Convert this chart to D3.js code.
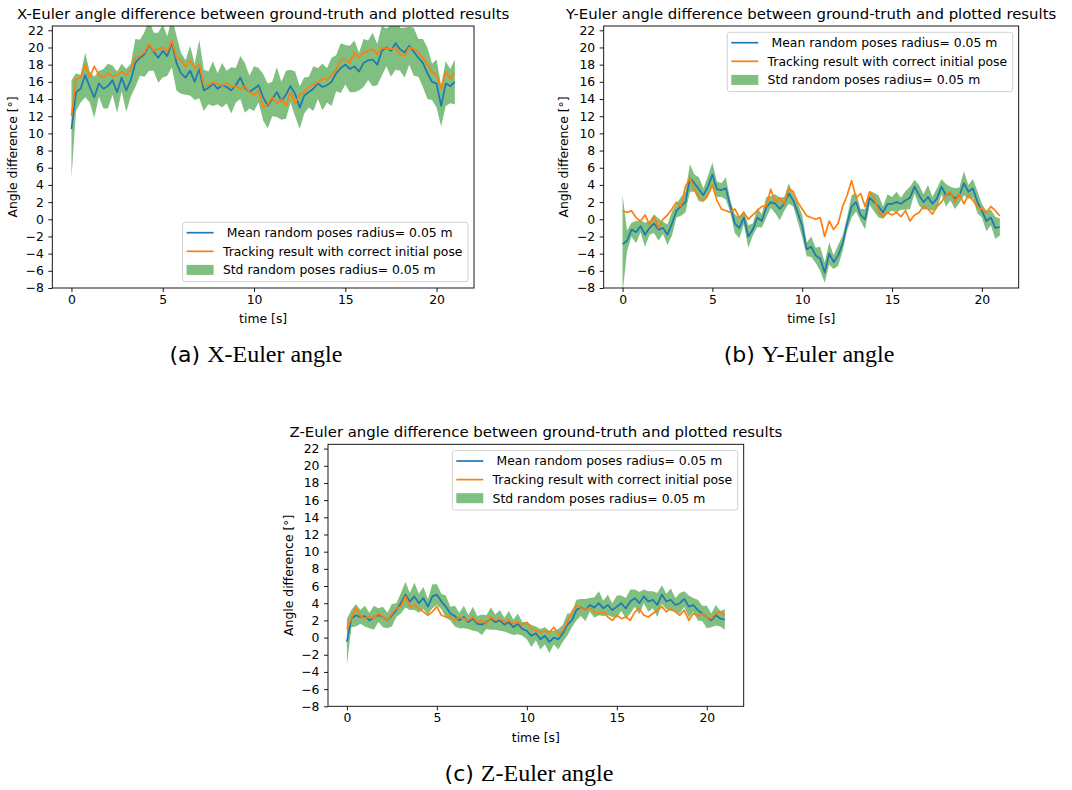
<!DOCTYPE html>
<html>
<head>
<meta charset="utf-8">
<script src="https://cdn.jsdelivr.net/npm/d3@7"></script>
<style>
  html, body { margin: 0; padding: 0; background: #fff; }
  svg { display: block; }
  text { font-family: "DejaVu Sans", sans-serif; fill: #000; }
</style>
</head>
<body>
<svg id="fig" width="1072" height="790"></svg>
<script>
// Sample times of the recordings (seconds).
const time = d3.range(0, 21.001, 0.25);

// X-Euler angle difference [deg]
const xMean = [
  10.5, 14.8, 15.2, 16.8,
  15.4, 14.2, 15.8, 15.2,
  15.5, 16.2, 14.8, 16.5,
  15.0, 16.2, 18.2, 18.8,
  19.2, 20.3, 19.5, 18.8,
  19.6, 19.0, 20.6, 18.2,
  17.0, 16.5, 17.3, 16.0,
  17.5, 15.0, 15.3, 15.8,
  15.2, 15.6, 15.4, 15.0,
  15.6, 16.5, 15.3, 14.8,
  15.2, 15.6, 14.2, 13.2,
  14.0, 14.8, 13.8, 14.5,
  15.5, 14.6, 13.0, 14.4,
  14.8, 15.2, 15.8, 15.4,
  15.6, 16.0, 17.0, 17.6,
  18.0, 17.5, 17.8, 17.2,
  18.2, 18.5, 18.6, 18.0,
  19.6, 20.0, 19.6, 20.5,
  19.8, 19.4, 20.2, 19.5,
  18.8, 18.2, 17.0, 16.0,
  15.8, 13.2, 15.8, 15.5,
  16.0
];
const xTrack = [
  12.0, 16.3, 16.5, 18.0,
  16.5, 17.8, 16.8, 16.5,
  17.0, 16.6, 16.8, 17.2,
  16.8, 17.4, 18.8, 19.0,
  19.4, 20.4, 19.6, 19.8,
  20.0, 19.5, 20.8, 18.8,
  18.5, 17.8, 18.5, 17.6,
  18.0, 15.6, 15.6, 15.9,
  15.8, 15.5, 15.9, 15.4,
  15.5, 15.2, 15.5, 14.8,
  14.5, 15.0, 13.0, 13.4,
  14.2, 13.5, 14.0, 13.2,
  14.8, 13.5, 14.5, 14.8,
  15.4, 15.7, 15.9, 16.4,
  16.2, 16.8, 17.4, 18.6,
  18.6, 18.2, 19.4, 18.8,
  19.4, 19.6, 19.8, 19.2,
  20.0, 19.9, 19.8, 20.0,
  19.2, 19.0, 20.0, 19.8,
  19.4, 18.8, 18.0, 17.2,
  16.8, 15.2, 17.2, 16.4,
  17.0
];
const xStd = [
  5.7, 2.2, 1.6, 2.6,
  1.8, 2.4, 1.5, 2.3,
  2.6, 1.7, 2.4, 1.6,
  2.5, 1.9, 2.8, 2.1,
  2.6, 3.0, 2.2, 2.9,
  3.1, 2.3, 2.9, 3.2,
  2.4, 2.0, 2.9, 2.1,
  3.4, 2.4, 1.9, 2.6,
  1.8, 2.6, 1.9, 2.7,
  2.0, 2.5, 2.9, 1.9,
  2.6, 2.0, 2.7, 2.6,
  2.0, 2.9, 2.2, 2.8,
  1.9, 2.6, 2.5, 2.1,
  1.8, 2.6, 1.8, 2.7,
  2.0, 2.8, 2.1, 2.9,
  2.3, 2.7, 3.0, 2.2,
  2.8, 2.3, 3.1, 2.4,
  2.9, 2.2, 3.0, 3.1,
  2.5, 2.9, 2.2, 2.8,
  2.2, 2.8, 3.0, 2.1,
  2.8, 2.4, 2.6, 2.0,
  2.6
];

// Y-Euler angle difference [deg]
const yMean = [
  -2.9, -2.5, -1.2, -1.5,
  -0.8, -1.8, -1.0, -0.5,
  -1.2, -1.0, -1.8, -0.5,
  1.0, 1.5, 2.0, 4.8,
  4.2, 3.5, 2.8, 3.8,
  5.2, 3.5, 3.4, 3.6,
  1.5, -0.5, -1.0, 0.2,
  -2.0, -1.2, 0.2, -0.2,
  1.4, 2.0, 1.8, 1.2,
  1.8, 3.0, 2.2, 0.8,
  -0.8, -3.5, -3.2, -4.2,
  -4.6, -6.2, -4.0, -5.0,
  -4.2, -2.8, -0.5, 1.5,
  2.0, 0.5, 0.0, 2.5,
  2.0, 1.5, 0.8, 1.8,
  1.8, 2.0, 1.8, 2.2,
  2.5, 3.8, 2.8, 2.0,
  2.6, 1.8, 2.4, 3.8,
  2.8, 3.0, 2.4, 2.8,
  4.2, 3.2, 3.6, 2.0,
  1.0, -0.2, 0.2, -1.0,
  -0.9
];
const yTrack = [
  1.0, 0.8, 1.0, 0.2,
  -0.2, 0.5, -0.6, 0.3,
  -1.0, 0.0, 0.5, 1.2,
  2.0, 1.5, 3.8, 4.8,
  3.5, 2.5, 2.2, 2.8,
  4.0, 2.2, 1.2, 1.0,
  0.8, 1.2, 0.2, 0.8,
  0.0, 0.5, 1.0, 1.5,
  1.5, 3.5, 2.0, 2.5,
  1.8, 3.6, 3.2, 2.0,
  1.2, 0.4, 0.2, 0.0,
  0.2, -2.0, -0.2, -1.2,
  -0.5, 1.5, 2.8, 4.5,
  2.5, 3.0, 1.5, 3.2,
  2.5, 1.0, 0.2, 0.8,
  0.5, 0.8, 0.3, 1.0,
  -0.2, 0.5, 0.8, 1.5,
  1.2, 0.6, 1.5, 2.0,
  2.8, 3.2, 2.0, 3.0,
  1.8, 2.8, 2.2, 1.4,
  1.2, 0.8, 1.5, 1.0,
  0.4
];
const yStd = [
  5.7, 1.2, 0.8, 1.3,
  0.7, 1.4, 0.8, 1.1,
  1.3, 0.7, 1.2, 1.4,
  0.8, 1.1, 1.2, 1.6,
  1.0, 1.4, 0.8, 1.2,
  1.4, 0.9, 0.8, 1.3,
  0.7, 1.1, 1.2, 0.8,
  1.3, 0.7, 1.1, 0.8,
  1.2, 0.7, 1.1, 1.3,
  0.8, 1.2, 0.7, 1.1,
  1.3, 0.8, 1.2, 0.9,
  1.4, 1.2, 1.3, 0.8,
  1.2, 0.9, 0.8, 1.3,
  1.1, 0.7, 1.2, 0.8,
  1.1, 1.3, 0.7, 1.1,
  0.8, 1.2, 0.7, 1.1,
  1.3, 0.8, 1.2, 0.9,
  1.4, 0.8, 1.2, 0.9,
  1.3, 0.8, 1.2, 0.9,
  1.4, 0.8, 1.1, 1.3,
  0.8, 1.2, 0.9, 1.3,
  1.0
];

// Z-Euler angle difference [deg]
const zMean = [
  -0.5, 2.2, 2.6, 2.4,
  2.5, 2.0, 2.3, 2.6,
  2.4, 2.0, 2.6, 3.2,
  4.0, 5.0, 4.2, 4.8,
  4.0, 4.6, 3.6, 4.8,
  5.0, 4.2, 3.6, 2.8,
  2.5, 2.0, 2.4, 1.8,
  2.2, 1.6, 1.5, 1.8,
  2.2, 1.8, 2.0, 1.5,
  1.8, 1.2, 1.6, 1.0,
  0.8, 0.2, 0.5, -0.2,
  0.2, -0.5, 0.0, -0.2,
  0.5, 1.5, 2.0, 3.2,
  3.5, 3.2, 3.8, 3.5,
  4.0, 3.4, 3.8, 3.2,
  3.6, 4.0, 3.4, 4.2,
  4.6, 4.0, 4.8, 4.2,
  4.4, 3.8, 5.0, 4.2,
  4.4, 3.8, 4.0, 4.5,
  3.6, 3.8, 3.2, 2.8,
  2.4, 2.0, 2.6, 2.2,
  2.1
];
const zTrack = [
  1.0, 2.2, 3.5, 2.5,
  2.2, 2.5, 2.2, 2.8,
  2.4, 2.0, 2.8, 3.4,
  3.6, 4.8, 3.6, 3.8,
  3.4, 3.0, 2.6, 3.0,
  3.6, 2.6, 2.4, 2.5,
  2.0, 2.4, 2.2, 2.0,
  2.4, 1.8, 2.0, 1.6,
  2.4, 2.0, 2.2, 1.8,
  2.0, 1.6, 1.8, 1.5,
  1.8, 1.0, 0.8, 0.6,
  0.8, 0.6, 1.2, 0.4,
  0.8, 1.8, 3.0, 3.8,
  3.4, 3.2, 3.5, 3.0,
  2.8, 3.0, 2.4, 2.0,
  2.6, 2.2, 2.4, 2.0,
  3.0, 3.4, 2.6, 2.4,
  2.8, 3.2, 3.6, 3.0,
  3.4, 3.0, 2.6, 3.2,
  2.0, 2.8, 2.5, 2.8,
  2.4, 2.2, 2.8, 3.0,
  2.6
];
const zStd = [
  2.7, 1.0, 1.3, 0.8,
  1.2, 0.9, 1.4, 0.8,
  1.2, 0.9, 1.3, 0.8,
  1.2, 1.5, 1.0, 1.6,
  1.1, 1.3, 0.9, 1.4,
  1.2, 0.9, 1.3, 0.8,
  1.2, 0.9, 1.3, 0.8,
  1.4, 0.9, 1.2, 0.8,
  1.3, 0.9, 1.2, 0.8,
  1.3, 0.9, 1.2, 0.8,
  1.0, 1.3, 0.8, 1.2,
  1.0, 1.3, 0.8, 1.2,
  1.0, 1.3, 0.8, 1.2,
  1.0, 1.3, 0.8, 1.2,
  1.4, 0.9, 1.2, 0.8,
  1.3, 0.9, 1.2, 1.4,
  1.0, 1.3, 0.8, 1.2,
  1.0, 1.4, 1.1, 0.9,
  1.3, 0.8, 1.2, 0.9,
  1.3, 0.8, 1.2, 0.9,
  1.3, 0.8, 1.2, 0.9,
  1.2
];

// Axis ticks and text
const xTickValues = [0, 5, 10, 15, 20];
const yTickValues = [-8, -6, -4, -2, 0, 2, 4, 6, 8, 10, 12, 14, 16, 18, 20, 22];
const legendLabels = [
  " Mean random poses radius= 0.05 m",
  "Tracking result with correct initial pose",
  "Std random poses radius= 0.05 m"
];
const titles = [
  "X-Euler angle difference between ground-truth and plotted results",
  "Y-Euler angle difference between ground-truth and plotted results",
  "Z-Euler angle difference between ground-truth and plotted results"
];
const captionTags = ["(a)", "(b)", "(c)"];
const captionTexts = ["X-Euler angle", "Y-Euler angle", "Z-Euler angle"];

// Layout of the three sub-figures
const layout = [
  { left: 52.3, right: 474, top: 26, bottom: 288, legend: "lower", capX: 256, capY: 362 },
  { left: 603.7, right: 1018.7, top: 26, bottom: 288, legend: "upper", capX: 809, capY: 362 },
  { left: 328, right: 743.7, top: 444.3, bottom: 706.3, legend: "upper", capX: 529, capY: 781 }
];
const series = [
  { mean: xMean, track: xTrack, std: xStd },
  { mean: yMean, track: yTrack, std: yStd },
  { mean: zMean, track: zTrack, std: zStd }
];

const colors = { mean: "#1f77b4", track: "#ff7f0e", band: "rgba(0,128,0,0.5)" };
const tickFont = 12.4, titleFont = 14.9;

const svg = d3.select("#fig");

series.forEach((s, i) => {
  const L = layout[i];
  const x = d3.scaleLinear().domain([-1.05, 22.05]).range([L.left, L.right]);
  const y = d3.scaleLinear().domain([-8, 22.5]).range([L.bottom, L.top]);
  const g = svg.append("g");

  const clipId = "clip" + i;
  g.append("clipPath").attr("id", clipId).append("rect")
    .attr("x", L.left).attr("y", L.top)
    .attr("width", L.right - L.left).attr("height", L.bottom - L.top);

  const rows = time.map((t, k) => ({ t, m: s.mean[k], tr: s.track[k], sd: s.std[k] }));
  const plot = g.append("g").attr("clip-path", `url(#${clipId})`);

  plot.append("path")
    .attr("d", d3.area().x(d => x(d.t)).y0(d => y(d.m - d.sd)).y1(d => y(d.m + d.sd))(rows))
    .attr("fill", colors.band);
  plot.append("path")
    .attr("d", d3.line().x(d => x(d.t)).y(d => y(d.m))(rows))
    .attr("fill", "none").attr("stroke", colors.mean).attr("stroke-width", 1.7)
    .attr("stroke-linejoin", "round");
  plot.append("path")
    .attr("d", d3.line().x(d => x(d.t)).y(d => y(d.tr))(rows))
    .attr("fill", "none").attr("stroke", colors.track).attr("stroke-width", 1.7)
    .attr("stroke-linejoin", "round");

  // axes
  const xAxis = g.append("g").attr("transform", `translate(0,${L.bottom})`)
    .call(d3.axisBottom(x).tickValues(xTickValues).tickSize(4).tickPadding(3.3).tickFormat(d3.format("d")));
  const yAxis = g.append("g").attr("transform", `translate(${L.left},0)`)
    .call(d3.axisLeft(y).tickValues(yTickValues).tickSize(4).tickPadding(4.5)
      .tickFormat(d => (d < 0 ? "\u2212" + Math.abs(d) : String(d))));
  [xAxis, yAxis].forEach(a => {
    a.select(".domain").remove();
    a.selectAll("line").attr("stroke", "#000").attr("stroke-width", 0.9);
    a.selectAll("text").attr("font-family", "DejaVu Sans").attr("font-size", tickFont).attr("fill", "#000");
  });

  g.append("rect")
    .attr("x", L.left).attr("y", L.top)
    .attr("width", L.right - L.left).attr("height", L.bottom - L.top)
    .attr("fill", "none").attr("stroke", "#000").attr("stroke-width", 0.9);

  // labels
  g.append("text").attr("x", (L.left + L.right) / 2).attr("y", L.top - 7.5)
    .attr("text-anchor", "middle").attr("font-size", titleFont).text(titles[i]);
  g.append("text").attr("x", (L.left + L.right) / 2).attr("y", L.bottom + 35.3)
    .attr("text-anchor", "middle").attr("font-size", tickFont).text("time [s]");
  g.append("text")
    .attr("transform", `translate(${L.left - 35.5},${(L.top + L.bottom) / 2}) rotate(-90)`)
    .attr("text-anchor", "middle").attr("font-size", tickFont).text("Angle difference [°]");

  // legend
  const leg = g.append("g");
  const texts = legendLabels.map(lbl => leg.append("text").attr("font-size", tickFont).attr("xml:space", "preserve").text(lbl));
  const textW = d3.max(texts, t => t.node().getComputedTextLength());
  const boxW = 4 + 27 + 9.3 + textW + 5.5, boxH = 59.4;
  const bx = L.right - 6 - boxW;
  const by = L.legend === "lower" ? L.bottom - 6.3 - boxH : L.top + 6.3;
  leg.insert("rect", ":first-child")
    .attr("x", bx).attr("y", by).attr("width", boxW).attr("height", boxH)
    .attr("rx", 2.5).attr("fill", "rgba(255,255,255,0.8)").attr("stroke", "#cccccc").attr("stroke-width", 0.9);
  const rowY = [10.4, 29, 47.6].map(d => by + d);
  texts.forEach((t, k) => t.attr("x", bx + 4 + 27 + 9.3).attr("y", rowY[k]).attr("dy", "0.36em"));
  leg.append("line").attr("x1", bx + 4).attr("x2", bx + 31).attr("y1", rowY[0]).attr("y2", rowY[0])
    .attr("stroke", colors.mean).attr("stroke-width", 1.7);
  leg.append("line").attr("x1", bx + 4).attr("x2", bx + 31).attr("y1", rowY[1]).attr("y2", rowY[1])
    .attr("stroke", colors.track).attr("stroke-width", 1.7);
  leg.append("rect").attr("x", bx + 4).attr("y", rowY[2] - 5).attr("width", 27).attr("height", 10)
    .attr("fill", colors.band);

  // caption below the sub-figure
  const cap = svg.append("text").attr("x", L.capX).attr("y", L.capY).attr("text-anchor", "middle");
  cap.append("tspan").attr("font-family", "DejaVu Sans").attr("font-size", 22).text(captionTags[i] + " ");
  cap.append("tspan").attr("font-family", "Liberation Serif").attr("font-size", 24).text(captionTexts[i]);
});
</script>
</body>
</html>
